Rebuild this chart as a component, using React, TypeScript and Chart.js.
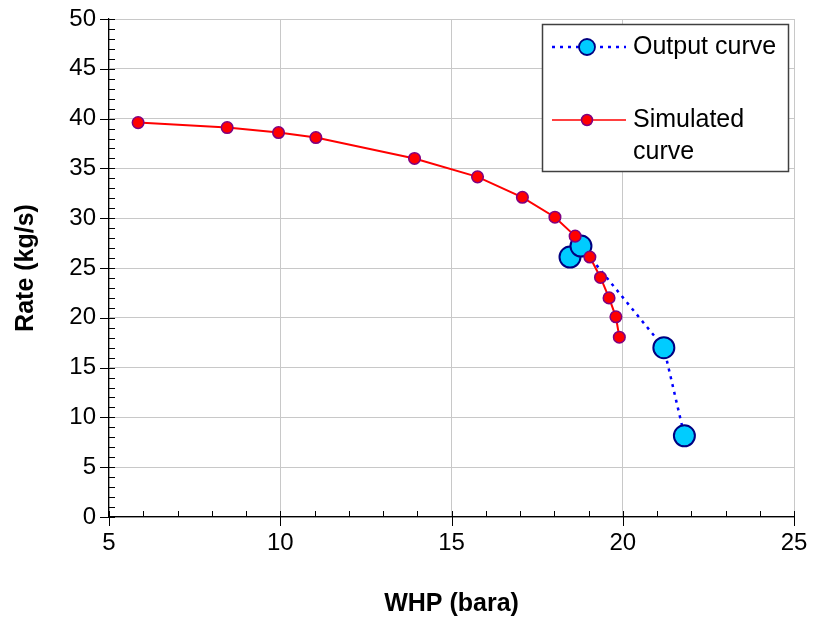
import React, { useEffect, useRef } from 'react';
import { Chart, registerables } from 'chart.js';

Chart.register(...registerables);

// ---- Data ----
const simulatedWHP = [5.85, 8.45, 9.95, 11.04, 13.92, 15.76, 17.07, 18.02, 18.61, 19.04, 19.35, 19.6, 19.8, 19.9];
const simulatedRate = [39.6, 39.1, 38.6, 38.1, 36.0, 34.15, 32.1, 30.1, 28.2, 26.1, 24.05, 22.0, 20.1, 18.05];
const outputWHP = [18.46, 18.78, 21.2, 21.8];
const outputRate = [26.1, 27.2, 17.0, 8.15];

const seriesLabels = ['Output curve', 'Simulated curve'];
const xTitle = 'WHP (bara)';
const yTitle = 'Rate (kg/s)';
const xMin = 5, xMax = 25, xStep = 5, xMinorStep = 1;
const yMin = 0, yMax = 50, yStep = 5, yMinorStep = 1;

const FONT = "'Liberation Sans', Arial, sans-serif";

const toPoints = (xs: number[], ys: number[]) => xs.map((x, i) => ({ x, y: ys[i] }));

const RED = '#FF0000';
const PURPLE = '#800080';
const CYAN = '#00CCFF';
const NAVY = '#000080';
const BLUE = '#0000FF';

export default function App() {
  const ref = useRef<HTMLCanvasElement | null>(null);

  useEffect(() => {
    document.body.style.margin = '0';
    const canvas = ref.current;
    if (!canvas) return;

    const tickPlugin = {
      id: 'excelTicks',
      beforeDatasetsDraw(chart: any) {
        const ctx = chart.ctx;
        const xs = chart.scales.x;
        const ys = chart.scales.y;
        const { left, bottom } = chart.chartArea;
        ctx.save();
        ctx.strokeStyle = '#000';
        ctx.lineWidth = 1;
        ctx.beginPath();
        for (let v = xMin; v <= xMax + 1e-9; v += xMinorStep) {
          const px = Math.round(xs.getPixelForValue(v)) + 0.5;
          const major = Math.abs(v / xStep - Math.round(v / xStep)) < 1e-9;
          ctx.moveTo(px, bottom - 6);
          ctx.lineTo(px, major ? bottom + 9 : bottom);
        }
        for (let v = yMin; v <= yMax + 1e-9; v += yMinorStep) {
          const py = Math.round(ys.getPixelForValue(v)) + 0.5;
          const major = Math.abs(v / yStep - Math.round(v / yStep)) < 1e-9;
          ctx.moveTo(major ? left - 9 : left, py);
          ctx.lineTo(left + 6, py);
        }
        ctx.stroke();
        ctx.restore();
      },
    };

    const legendPlugin = {
      id: 'boxLegend',
      afterDraw(chart: any) {
        const ctx = chart.ctx;
        const area = chart.chartArea;
        const bx = area.right - 252;
        const by = area.top + 5;
        const bw = 246;
        const bh = 147;
        ctx.save();
        ctx.fillStyle = '#fff';
        ctx.fillRect(bx, by, bw, bh);
        ctx.strokeStyle = '#404040';
        ctx.lineWidth = 1.5;
        ctx.strokeRect(bx + 0.5, by + 0.5, bw, bh);

        const fontSize = 25;
        ctx.font = `${fontSize}px ${FONT}`;
        ctx.textBaseline = 'middle';
        ctx.textAlign = 'left';
        const textX = bx + 91;
        const maxW = bx + bw - textX - 3;
        const lineH = 32;
        const wrap = (text: string) => {
          const words = text.split(' ');
          const lines: string[] = [];
          let cur = '';
          for (const w of words) {
            const t = cur ? cur + ' ' + w : w;
            if (ctx.measureText(t).width > maxW && cur) {
              lines.push(cur);
              cur = w;
            } else cur = t;
          }
          if (cur) lines.push(cur);
          return lines;
        };

        const items = [
          { label: seriesLabels[0], y: by + 23, dash: [3, 5], color: BLUE, lw: 2.5, r: 8, fill: CYAN, border: NAVY, bw: 1.8 },
          { label: seriesLabels[1], y: by + 96, dash: [], color: RED, lw: 1.5, r: 5.5, fill: RED, border: PURPLE, bw: 1.5 },
        ];
        for (const it of items) {
          ctx.save();
          ctx.strokeStyle = it.color;
          ctx.lineWidth = it.lw;
          ctx.setLineDash(it.dash);
          ctx.beginPath();
          ctx.moveTo(bx + 10, it.y);
          ctx.lineTo(bx + 84, it.y);
          ctx.stroke();
          ctx.setLineDash([]);
          ctx.beginPath();
          ctx.arc(bx + 45, it.y, it.r, 0, Math.PI * 2);
          ctx.fillStyle = it.fill;
          ctx.fill();
          ctx.lineWidth = it.bw;
          ctx.strokeStyle = it.border;
          ctx.stroke();
          ctx.restore();
          ctx.fillStyle = '#000';
          const lines = wrap(it.label);
          lines.forEach((ln, i) => ctx.fillText(ln, textX, it.y + i * lineH));
        }
        ctx.restore();
      },
    };

    const chart = new Chart(canvas, {
      type: 'scatter',
      data: {
        datasets: [
          {
            label: seriesLabels[1] + ' markers',
            data: toPoints(simulatedWHP, simulatedRate),
            showLine: false,
            pointRadius: 5.8,
            pointBorderWidth: 1.5,
            pointBackgroundColor: RED,
            pointBorderColor: PURPLE,
            order: 0,
          },
          {
            label: seriesLabels[0],
            data: toPoints(outputWHP, outputRate),
            showLine: true,
            borderColor: BLUE,
            borderWidth: 2.5,
            borderDash: [3, 5],
            pointRadius: 10.5,
            pointBorderWidth: 2,
            pointBackgroundColor: CYAN,
            pointBorderColor: NAVY,
            order: 1,
          },
          {
            label: seriesLabels[1],
            data: toPoints(simulatedWHP, simulatedRate),
            showLine: true,
            borderColor: RED,
            borderWidth: 2,
            pointRadius: 0,
            order: 2,
          },
        ],
      },
      options: {
        responsive: false,
        animation: false,
        events: [],
        layout: { padding: { left: 0, top: 19, right: 19, bottom: 0 } },
        plugins: {
          legend: { display: false },
          tooltip: { enabled: false },
        },
        scales: {
          x: {
            type: 'linear',
            min: xMin,
            max: xMax,
            ticks: {
              stepSize: xStep,
              color: '#000',
              font: { family: FONT, size: 24 },
              padding: 12,
            },
            grid: { color: '#c8c8c8', lineWidth: 1, drawTicks: false },
            border: { display: true, color: '#000', width: 1.2 },
            title: {
              display: true,
              text: xTitle,
              color: '#000',
              font: { family: FONT, size: 25, weight: 'bold' },
              padding: { top: 0, bottom: 2 },
            },
            afterFit: (s: any) => {
              s.height = 104;
              s.paddingLeft = 0;
              s.paddingRight = 0;
            },
          },
          y: {
            type: 'linear',
            min: yMin,
            max: yMax,
            ticks: {
              stepSize: yStep,
              color: '#000',
              font: { family: FONT, size: 24 },
              padding: 13,
            },
            grid: { color: '#c8c8c8', lineWidth: 1, drawTicks: false },
            border: { display: true, color: '#000', width: 1.2 },
            title: {
              display: true,
              text: yTitle,
              color: '#000',
              font: { family: FONT, size: 25, weight: 'bold' },
              padding: { top: 11, bottom: 0 },
            },
            afterFit: (s: any) => {
              s.width = 109;
              s.paddingTop = 0;
              s.paddingBottom = 0;
            },
          },
        },
      },
      plugins: [tickPlugin, legendPlugin],
    } as any);

    return () => chart.destroy();
  }, []);

  return (
    <div style={{ position: 'relative', width: 813, height: 621 }}>
      <canvas ref={ref} width={813} height={621} />
    </div>
  );
}
